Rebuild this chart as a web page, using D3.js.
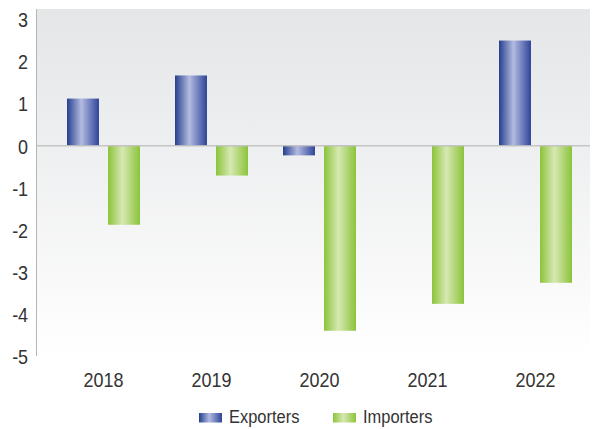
<!DOCTYPE html>
<html>
<head>
<meta charset="utf-8">
<script src="https://cdn.jsdelivr.net/npm/d3@7"></script>
<style>
  html, body { margin: 0; padding: 0; background: #ffffff; }
  svg { display: block; }
  text { font-family: "Liberation Sans", Arial, sans-serif; fill: #333333; }
</style>
</head>
<body>
<svg id="chart" width="594" height="430"></svg>
<script>
// Annual change by group
const years = ["2018", "2019", "2020", "2021", "2022"];
const exporters = [1.12, 1.67, -0.23, 0, 2.50];
const importers = [-1.88, -0.71, -4.40, -3.76, -3.26];
const seriesNames = ["Exporters", "Importers"];
const yTicks = [3, 2, 1, 0, -1, -2, -3, -4, -5];

const svg = d3.select("#chart");

const plot = { left: 36, right: 590, top: 9, bottom: 356 };
const squeeze = 0.88; // horizontal compression for a condensed look

const y = d3.scaleLinear().domain([-5, 3.25]).range([plot.bottom, plot.top]);
const x = d3.scaleBand().domain(years).range([49.5, 589.5]).paddingInner(0).paddingOuter(0);
const inner = d3.scaleBand().domain(seriesNames)
  .range([x.bandwidth() / 2 - 36.5, x.bandwidth() / 2 + 36.5]).paddingInner(0.22).paddingOuter(0);

const defs = svg.append("defs");

// soft vertical wash behind the plot
const bg = defs.append("linearGradient").attr("id", "bgGrad")
  .attr("x1", 0).attr("y1", 0).attr("x2", 0).attr("y2", 1);
bg.append("stop").attr("offset", "0%").attr("stop-color", "#e5e6e8");
bg.append("stop").attr("offset", "40%").attr("stop-color", "#eeeff0");
bg.append("stop").attr("offset", "100%").attr("stop-color", "#ffffff");

// cylindrical shading on bars
function barGradient(id, edgeL, mid, edgeR) {
  const g = defs.append("linearGradient").attr("id", id)
    .attr("x1", 0).attr("y1", 0).attr("x2", 1).attr("y2", 0);
  g.append("stop").attr("offset", "0%").attr("stop-color", edgeL);
  g.append("stop").attr("offset", "45%").attr("stop-color", mid);
  g.append("stop").attr("offset", "100%").attr("stop-color", edgeR);
}
barGradient("gradExp", "#263f8d", "#b3bbe1", "#2f449a");
barGradient("gradImp", "#8bc43a", "#d6e8b2", "#8cc43b");
const fills = { Exporters: "url(#gradExp)", Importers: "url(#gradImp)" };

svg.append("rect")
  .attr("x", plot.left).attr("y", plot.top)
  .attr("width", plot.right - plot.left).attr("height", plot.bottom - plot.top)
  .attr("fill", "url(#bgGrad)");

// bars
const rows = years.map((yr, i) => ({ year: yr, values: [
  { name: "Exporters", v: exporters[i] },
  { name: "Importers", v: importers[i] }
]}));

const groups = svg.append("g").selectAll("g").data(rows).join("g")
  .attr("transform", d => `translate(${x(d.year)},0)`);

groups.selectAll("rect").data(d => d.values.filter(e => e.v !== 0)).join("rect")
  .attr("x", d => inner(d.name))
  .attr("width", inner.bandwidth())
  .attr("y", d => y(Math.max(0, d.v)))
  .attr("height", d => Math.abs(y(d.v) - y(0)))
  .attr("fill", d => fills[d.name]);

// zero line
svg.append("line")
  .attr("x1", plot.left).attr("x2", plot.right)
  .attr("y1", y(0)).attr("y2", y(0))
  .attr("stroke", "#bdbdbd").attr("stroke-opacity", 0.85).attr("stroke-width", 1.6);

// y axis
const yAxis = d3.axisLeft(y).tickValues(yTicks).tickSize(0).tickPadding(9).tickFormat(d => String(d));
const ya = svg.append("g").attr("transform", `translate(${plot.left},0)`).call(yAxis);
ya.select(".domain").attr("stroke", "#b5b5b5").attr("stroke-width", 1)
  .attr("d", `M0.5,${plot.top}V${plot.bottom}`);
ya.selectAll("text").attr("font-size", 20.4).attr("fill", "#333333")
  .attr("dy", "0.36em")
  .attr("transform", `scale(${squeeze},1)`);

// x axis labels
const xAxis = d3.axisBottom(x).tickSize(0).tickPadding(0);
const xa = svg.append("g").attr("transform", `translate(0,372.5)`).call(xAxis);
xa.select(".domain").remove();
xa.selectAll("text").attr("font-size", 20.4).attr("fill", "#333333").attr("dy", "0.72em")
  .attr("transform", `scale(${squeeze},1)`);

// legend
const legendX = [199, 333];
const lg = svg.append("g").selectAll("g").data(seriesNames).join("g")
  .attr("transform", (d, i) => `translate(${legendX[i]},413)`);
lg.append("rect").attr("width", 23).attr("height", 9.5).attr("fill", d => fills[d]);
lg.append("text").attr("font-size", 18.7)
  .attr("transform", `translate(30,10.2) scale(${squeeze},1)`)
  .text(d => d);
</script>
</body>
</html>
